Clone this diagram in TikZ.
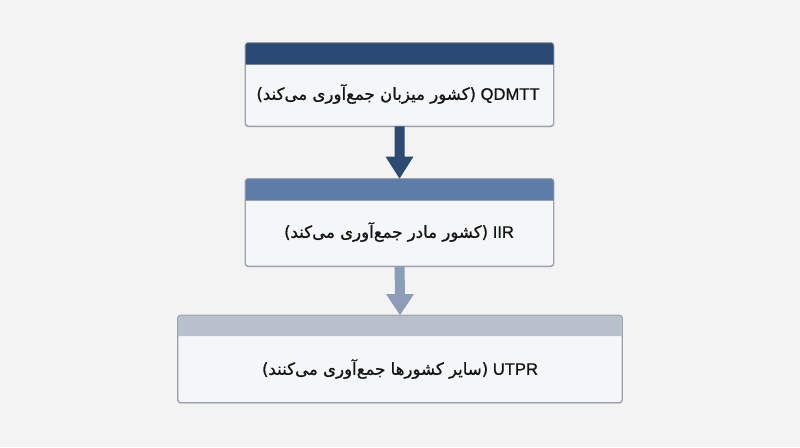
\documentclass[tikz,border=0pt]{standalone}
\usepackage{fontspec}
\setmainfont[FakeBold=0.9,AutoFakeBold=0.9]{Liberation Sans}
\newfontfamily\farsi[Script=Arabic,AutoFakeBold=0.9]{DejaVu Sans}
\TeXXeTstate=1
\usetikzlibrary{calc,shadows}
\definecolor{bgcol}{HTML}{F3F3F3}
\definecolor{bodycol}{HTML}{F5F6F7}
\definecolor{edgecol}{HTML}{9EA3AB}
\definecolor{hdrA}{HTML}{2A4A75}
\definecolor{hdrB}{HTML}{5D7CA8}
\definecolor{hdrC}{HTML}{B9C0CD}
\definecolor{arrA}{HTML}{2C4A72}
\definecolor{arrB}{HTML}{8C9DB7}
\definecolor{txtcol}{HTML}{141414}
\tikzset{
  box/.style={draw=edgecol, line width=0.6pt, fill=bodycol, rounded corners=2pt,
    drop shadow={opacity=0.18, shadow xshift=0pt, shadow yshift=-1.2pt}},
  txt/.style={text=txtcol, font=\fontsize{11.8}{14}\selectfont\bfseries, inner sep=0pt}
}
\begin{document}
\begin{tikzpicture}[x=0.025cm,y=-0.025cm]
    \fill[bgcol] (0,0) rectangle (800,447);
    \useasboundingbox (0,0) rectangle (800,447);

    % boxes
    \node[box, minimum width=308*0.025cm, minimum height=83*0.025cm] (b1) at (399.5,84.5) {};
    \node[box, minimum width=308*0.025cm, minimum height=87*0.025cm] (b2) at (399.5,222.5) {};
    \node[box, minimum width=444*0.025cm, minimum height=87*0.025cm] (b3) at (400,359) {};

    % header bars
    \fill[hdrA] ($(b1.north west)+(0,22)$) [rounded corners=2pt] -- (b1.north west) -- (b1.north east) [sharp corners] -- ($(b1.north east)+(0,22)$) -- cycle;
    \fill[hdrB] ($(b2.north west)+(0,22)$) [rounded corners=2pt] -- (b2.north west) -- (b2.north east) [sharp corners] -- ($(b2.north east)+(0,22)$) -- cycle;
    \fill[hdrC] ($(b3.north west)+(0,21)$) [rounded corners=2pt] -- (b3.north west) -- (b3.north east) [sharp corners] -- ($(b3.north east)+(0,21)$) -- cycle;
    \draw[edgecol, line width=0.6pt, rounded corners=2pt] (b1.north west) rectangle (b1.south east);
    \draw[edgecol, line width=0.6pt, rounded corners=2pt] (b2.north west) rectangle (b2.south east);
    \draw[edgecol, line width=0.6pt, rounded corners=2pt] (b3.north west) rectangle (b3.south east);

    % texts
    \node[txt] (t1) at (398,94) {\beginR\beginL QDMTT\endL{} {\farsi(کشور میزبان جمع‌آوری می‌کند)}\endR};
    \node[txt] (t2) at (399,232) {\beginR\beginL IIR\endL{} {\farsi(کشور مادر جمع‌آوری می‌کند)}\endR};
    \node[txt] (t3) at (400,369) {\beginR\beginL UTPR\endL{} {\farsi(سایر کشورها جمع‌آوری می‌کنند)}\endR};

    % arrows
    \fill[arrA] ($(b1.south)+(-5,0)$) -- ($(b2.north)+(-5,-22)$) -- ($(b2.north)+(-14,-22)$) -- (b2.north)
        -- ($(b2.north)+(14,-22)$) -- ($(b2.north)+(5,-22)$) -- ($(b1.south)+(5,0)$) -- cycle;
    \fill[arrB] ($(b2.south)+(-5,0)$) -- ($(b3.north)+(-5,-21)$) -- ($(b3.north)+(-14,-21)$) -- (b3.north)
        -- ($(b3.north)+(14,-21)$) -- ($(b3.north)+(5,-21)$) -- ($(b2.south)+(5,0)$) -- cycle;
\end{tikzpicture}
\end{document}
